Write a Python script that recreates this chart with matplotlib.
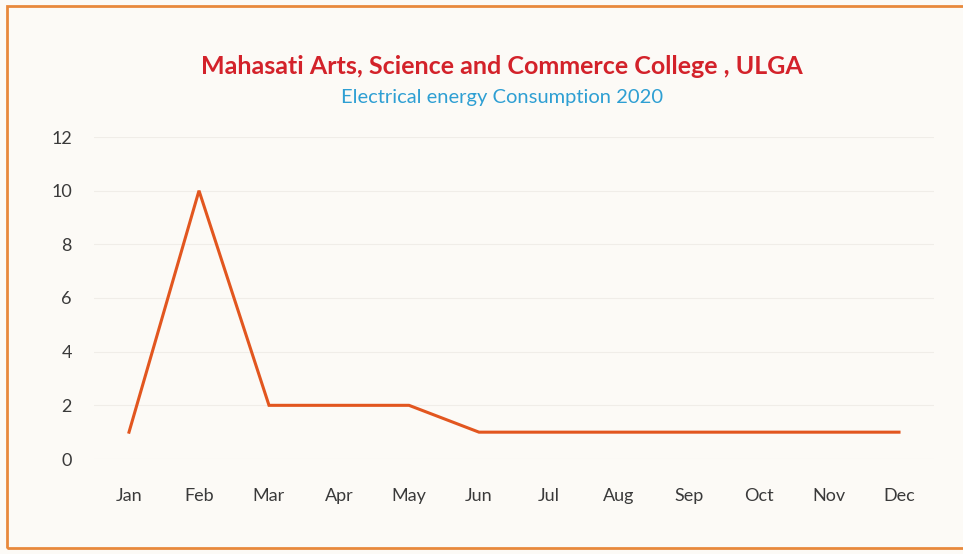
import matplotlib.pyplot as plt
from matplotlib.patches import Rectangle

# chart data
months = ['Jan', 'Feb', 'Mar', 'Apr', 'May', 'Jun',
          'Jul', 'Aug', 'Sep', 'Oct', 'Nov', 'Dec']
consumption = [1, 10, 2, 2, 2, 1, 1, 1, 1, 1, 1, 1]
y_ticks = [0, 2, 4, 6, 8, 10, 12]

title = 'Mahasati Arts, Science and Commerce College , ULGA'
subtitle = 'Electrical energy Consumption 2020'

plt.rcParams['font.family'] = ['Lato', 'DejaVu Sans']

fig = plt.figure(figsize=(9.63, 5.54), dpi=100)
fig.patch.set_facecolor('#fcfaf6')

# orange chart border
fig.patches.append(Rectangle((7 / 963, 6 / 554), 1.0, 542 / 554,
                             transform=fig.transFigure, fill=False,
                             edgecolor='#e8893c', linewidth=2))

ax = fig.add_axes([94 / 963, 95 / 554, 840 / 963, 322 / 554])
ax.set_facecolor('none')
ax.plot(range(len(months)), consumption, color='#e2561f', linewidth=2.2,
        solid_joinstyle='miter')

ax.set_xlim(-0.5, len(months) - 0.5)
ax.set_ylim(0, 12)
ax.set_xticks(range(len(months)))
ax.set_xticklabels(months)
ax.set_yticks(y_ticks)
ax.grid(axis='y', color='#f0ede8', linewidth=0.8)
ax.set_axisbelow(True)
for s in ax.spines.values():
    s.set_visible(False)
ax.tick_params(axis='both', length=0, labelsize=13, labelcolor='#3a3a3a')
ax.tick_params(axis='x', pad=21)
ax.tick_params(axis='y', pad=16)

fig.text(0.521, 1 - 66 / 554, title, ha='center', va='center',
         fontsize=18, fontweight='bold', color='#d3222a')
fig.text(0.521, 1 - 98 / 554, subtitle, ha='center', va='center',
         fontsize=14.5, color='#2e9fd3')

fig.savefig('out.png', dpi=100, facecolor=fig.get_facecolor())
